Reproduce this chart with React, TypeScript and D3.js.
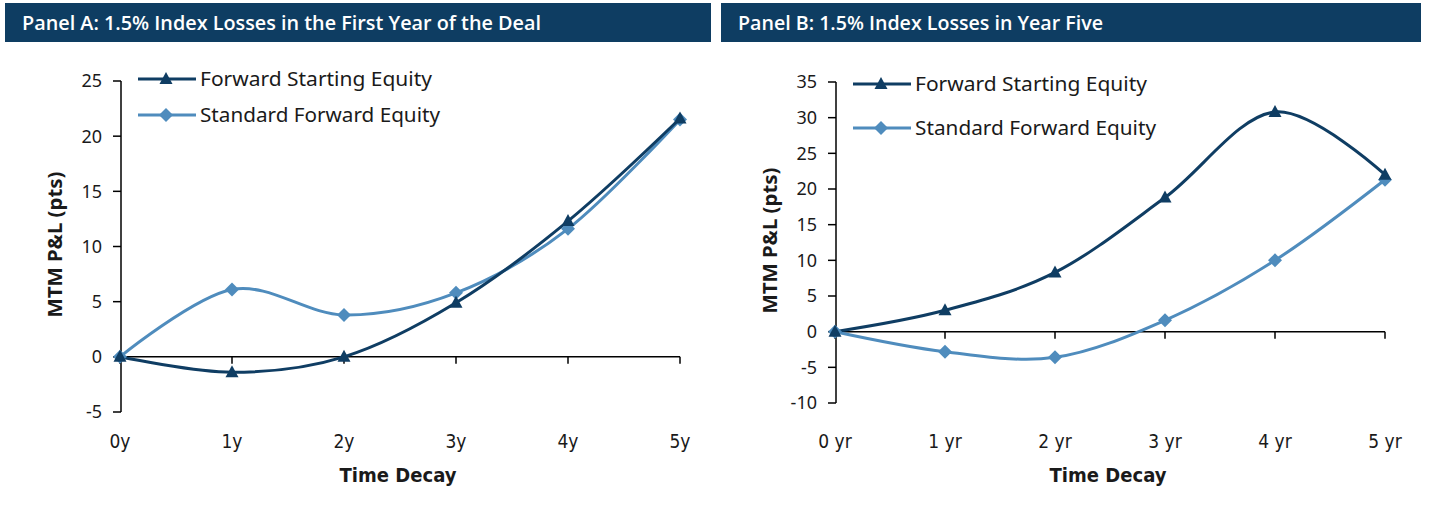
import React from "react";
import * as d3 from "d3";

const categoriesA = ["0y", "1y", "2y", "3y", "4y", "5y"];
const categoriesB = ["0 yr", "1 yr", "2 yr", "3 yr", "4 yr", "5 yr"];
const fwdStartA = [0, -1.4, 0, 4.9, 12.3, 21.6];
const stdFwdA = [0, 6.1, 3.8, 5.8, 11.6, 21.5];
const fwdStartB = [0, 3.0, 8.3, 18.8, 30.8, 22.0];
const stdFwdB = [0, -2.8, -3.6, 1.6, 10.0, 21.3];
const yTicksA = [-5, 0, 5, 10, 15, 20, 25];
const yTicksB = [-10, -5, 0, 5, 10, 15, 20, 25, 30, 35];
const seriesNames = ["Forward Starting Equity", "Standard Forward Equity"];
const titles = [
  "Panel A: 1.5% Index Losses in the First Year of the Deal",
  "Panel B: 1.5% Index Losses in Year Five",
];

const DARK = "#0f3d63";
const LIGHT = "#4f8cbd";
const HEADER = "#0e3d62";
const TEXT = "#1a1a1a";
const tickFont = "'Noto Sans', 'Open Sans', sans-serif";
const condFont = "'DejaVu Sans Condensed', 'Liberation Sans Narrow', Roboto, sans-serif";

type PanelProps = {
  title: string;
  categories: string[];
  s1: number[];
  s2: number[];
  yTicks: number[];
  hx0: number;
  hx1: number;
  titleW: number;
  x0: number;
  x1: number;
  yTop: number;
  yBottom: number;
  legendY: [number, number];
  legendW: [number, number];
};

function Triangle({ x, y }: { x: number; y: number }) {
  return <path d={`M${x},${y - 7}L${x + 6.5},${y + 5}L${x - 6.5},${y + 5}Z`} fill={DARK} />;
}
function Diamond({ x, y }: { x: number; y: number }) {
  return <path d={`M${x},${y - 7}L${x + 7},${y}L${x},${y + 7}L${x - 7},${y}Z`} fill={LIGHT} />;
}

function Panel(p: PanelProps) {
  const x = d3.scalePoint<string>().domain(p.categories).range([p.x0, p.x1]);
  const y = d3
    .scaleLinear()
    .domain([p.yTicks[0], p.yTicks[p.yTicks.length - 1]])
    .range([p.yBottom, p.yTop]);
  const line = d3
    .line<number>()
    .x((_, i) => x(p.categories[i]) as number)
    .y((d) => y(d))
    .curve(d3.curveCatmullRom.alpha(0));
  const y0 = y(0);
  const labelY = 448;
  const midX = (p.x0 + p.x1) / 2;
  return (
    <g>
      <rect x={p.hx0} y={3} width={p.hx1 - p.hx0} height={39} fill={HEADER} />
      <text
        x={p.hx0 + 17}
        y={30}
        fill="#fff"
        fontFamily="'Open Sans', 'Noto Sans', sans-serif"
        fontWeight={600}
        fontSize={19}
        textLength={p.titleW}
        lengthAdjust="spacingAndGlyphs"
      >
        {p.title}
      </text>
      {/* y axis */}
      <line x1={p.x0 + 1} x2={p.x0 + 1} y1={p.yTop} y2={p.yBottom} stroke="#000" strokeWidth={1.5} />
      {p.yTicks.map((t) => (
        <g key={t}>
          <line x1={p.x0 - 7} x2={p.x0 + 1} y1={y(t)} y2={y(t)} stroke="#000" strokeWidth={1.5} />
          <text
            x={p.x0 - 18}
            y={y(t)}
            dy="0.36em"
            textAnchor="end"
            fontFamily={tickFont}
            fontSize={18}
            fill={TEXT}
          >
            {t}
          </text>
        </g>
      ))}
      {/* x axis */}
      <line x1={p.x0} x2={p.x1} y1={y0} y2={y0} stroke="#000" strokeWidth={1.5} />
      {p.categories.map((c) => (
        <g key={c}>
          <line x1={x(c)} x2={x(c)} y1={y0} y2={y0 + 7} stroke="#000" strokeWidth={1.5} />
          <text
            x={x(c)}
            y={labelY}
            textAnchor="middle"
            fontFamily={condFont}
            fontSize={19}
            fill={TEXT}
          >
            {c}
          </text>
        </g>
      ))}
      <text
        x={midX - 2}
        y={482}
        textAnchor="middle"
        fontFamily={condFont}
        fontWeight="bold"
        fontSize={19}
        fill={TEXT}
        textLength={117}
        lengthAdjust="spacingAndGlyphs"
      >
        Time Decay
      </text>
      <text
        transform={`translate(${p.x0 - 58},${(p.yTop + p.yBottom) / 2 - 2}) rotate(-90)`}
        textAnchor="middle"
        fontFamily={tickFont}
        fontWeight="bold"
        fontSize={19}
        fill={TEXT}
        textLength={146}
        lengthAdjust="spacingAndGlyphs"
      >
        MTM P&amp;L (pts)
      </text>
      {/* series */}
      <path d={line(p.s2) as string} fill="none" stroke={LIGHT} strokeWidth={3} />
      <path d={line(p.s1) as string} fill="none" stroke={DARK} strokeWidth={3} />
      {p.s2.map((v, i) => (
        <Diamond key={"d" + i} x={x(p.categories[i]) as number} y={y(v)} />
      ))}
      {p.s1.map((v, i) => (
        <Triangle key={"t" + i} x={x(p.categories[i]) as number} y={y(v)} />
      ))}
      {/* legend */}
      <line x1={p.x0 + 18} x2={p.x0 + 76} y1={p.legendY[0]} y2={p.legendY[0]} stroke={DARK} strokeWidth={3} />
      <Triangle x={p.x0 + 46} y={p.legendY[0]} />
      <text
        x={p.x0 + 80}
        y={p.legendY[0]}
        dy="0.36em"
        fontFamily={tickFont}
        fontSize={19}
        fill={TEXT}
        textLength={p.legendW[0]}
        lengthAdjust="spacingAndGlyphs"
      >
        {seriesNames[0]}
      </text>
      <line x1={p.x0 + 18} x2={p.x0 + 76} y1={p.legendY[1]} y2={p.legendY[1]} stroke={LIGHT} strokeWidth={3} />
      <Diamond x={p.x0 + 46} y={p.legendY[1]} />
      <text
        x={p.x0 + 80}
        y={p.legendY[1]}
        dy="0.36em"
        fontFamily={tickFont}
        fontSize={19}
        fill={TEXT}
        textLength={p.legendW[1]}
        lengthAdjust="spacingAndGlyphs"
      >
        {seriesNames[1]}
      </text>
    </g>
  );
}

export default function App() {
  return (
    <svg
      width={1434}
      height={507}
      style={{ position: "absolute", left: 0, top: 0, background: "#fff" }}
    >
      <rect width={1434} height={507} fill="#fff" />
      <Panel
        title={titles[0]}
        categories={categoriesA}
        s1={fwdStartA}
        s2={stdFwdA}
        yTicks={yTicksA}
        hx0={5}
        hx1={711}
        titleW={519}
        x0={120}
        x1={680}
        yTop={81}
        yBottom={412}
        legendY={[79, 115]}
        legendW={[232, 240]}
      />
      <Panel
        title={titles[1]}
        categories={categoriesB}
        s1={fwdStartB}
        s2={stdFwdB}
        yTicks={yTicksB}
        hx0={721}
        hx1={1421}
        titleW={365}
        x0={835}
        x1={1385}
        yTop={82}
        yBottom={403}
        legendY={[84, 128]}
        legendW={[232, 241]}
      />
    </svg>
  );
}
